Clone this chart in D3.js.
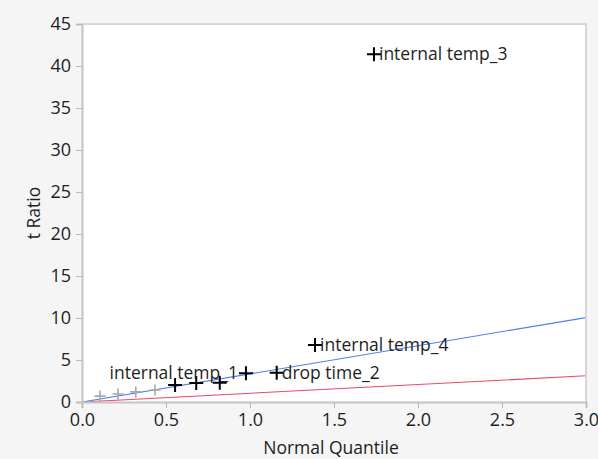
<!DOCTYPE html>
<html>
<head>
<meta charset="utf-8">
<script src="https://cdn.jsdelivr.net/npm/d3@7"></script>
<style>
  html, body { margin: 0; padding: 0; background: #f5f5f5; }
  svg { display: block; }
  text { font-family: "Open Sans", "Noto Sans", sans-serif; fill: #1e1e1e; }
</style>
</head>
<body>
<svg id="chart" width="598" height="459"></svg>
<script>
// Half-normal plot of effect t ratios
const quantiles = [0.107, 0.214, 0.32, 0.435, 0.554, 0.68, 0.82, 0.976, 1.159, 1.387, 1.738];
const tRatios   = [0.7, 0.95, 1.2, 1.43, 2.02, 2.26, 2.3, 3.42, 3.49, 6.79, 41.4];
const significant = [false, false, false, false, true, true, true, true, true, true, true];
const pointLabels = ["", "", "", "", "", "", "", "internal temp_1", "drop time_2", "internal temp_4", "internal temp_3"];
const labelSide   = ["", "", "", "", "", "", "", "left", "right", "right", "right"];

// Reference lines through the origin: [x end, y end]
const blueLine = [[0, 0], [3.0, 10.05]];
const redLine  = [[0, 0], [3.0, 3.12]];

const xTicks = [0, 0.5, 1.0, 1.5, 2.0, 2.5, 3.0];
const yTicks = [0, 5, 10, 15, 20, 25, 30, 35, 40, 45];

const svg = d3.select("#chart");
const plotL = 82, plotR = 586, plotT = 24, plotB = 402;
const tickFont = 18, titleFont = 17.5, labelFont = 17.5;

const x = d3.scaleLinear().domain([0, 3]).range([plotL, plotR]);
const y = d3.scaleLinear().domain([0, 45]).range([plotB, plotT]);

// Plot area
svg.append("rect")
  .attr("x", plotL).attr("y", plotT)
  .attr("width", plotR - plotL).attr("height", plotB - plotT)
  .attr("fill", "#fff");

svg.append("clipPath").attr("id", "plotclip")
  .append("rect").attr("x", plotL).attr("y", plotT)
  .attr("width", plotR - plotL).attr("height", plotB - plotT);

const plot = svg.append("g").attr("clip-path", "url(#plotclip)");

const line = d3.line().x(d => x(d[0])).y(d => y(d[1]));
plot.append("path").datum(redLine).attr("d", line)
  .attr("fill", "none").attr("stroke", "#ec4a63").attr("stroke-width", 1.1);
plot.append("path").datum(blueLine).attr("d", line)
  .attr("fill", "none").attr("stroke", "#4f7ff0").attr("stroke-width", 1.1);

// Frame
svg.append("path")
  .attr("d", `M${plotL},${plotT}H${plotR}V${plotB}`)
  .attr("fill", "none").attr("stroke", "#d6d6d6").attr("stroke-width", 2);

// Axes
const xAxis = svg.append("g").attr("transform", `translate(0,${plotB})`)
  .call(d3.axisBottom(x).tickValues(xTicks).tickFormat(d3.format(".1f")).tickSizeOuter(0).tickSize(6).tickPadding(5));
const yAxis = svg.append("g").attr("transform", `translate(${plotL},0)`)
  .call(d3.axisLeft(y).tickValues(yTicks).tickSizeOuter(0).tickSize(6).tickPadding(5));

[xAxis, yAxis].forEach(a => {
  a.select(".domain").attr("stroke", "#c4c4c4").attr("stroke-width", 2);
  a.selectAll(".tick line").attr("stroke", "#b8b8b8");
  a.selectAll(".tick text").attr("font-size", tickFont).attr("fill", "#1e1e1e")
    .attr("font-family", '"Open Sans", "Noto Sans", sans-serif');
});

svg.append("text")
  .attr("x", (plotL + plotR) / 2 - 3).attr("y", 454)
  .attr("text-anchor", "middle").attr("font-size", titleFont)
  .text("Normal Quantile");

svg.append("text")
  .attr("transform", `translate(40,${(plotT + plotB) / 2}) rotate(-90)`)
  .attr("text-anchor", "middle").attr("font-size", titleFont)
  .text("t Ratio");

// Points
const pts = quantiles.map((q, i) => ({
  q, t: tRatios[i], sig: significant[i], label: pointLabels[i], side: labelSide[i]
}));

const g = svg.append("g");
pts.forEach(p => {
  const cx = x(p.q), cy = y(p.t);
  const h = p.sig ? 7 : 5.5;
  g.append("path")
    .attr("d", `M${cx - h},${cy}H${cx + h}M${cx},${cy - h}V${cy + h}`)
    .attr("stroke", p.sig ? "#000" : "#a8a8a8")
    .attr("stroke-width", p.sig ? 2 : 1.6)
    .attr("fill", "none");
  if (p.label) {
    g.append("text")
      .attr("x", p.side === "left" ? cx - 8 : cx + 5)
      .attr("y", cy + 6)
      .attr("text-anchor", p.side === "left" ? "end" : "start")
      .attr("font-size", labelFont)
      .text(p.label);
  }
});
</script>
</body>
</html>
